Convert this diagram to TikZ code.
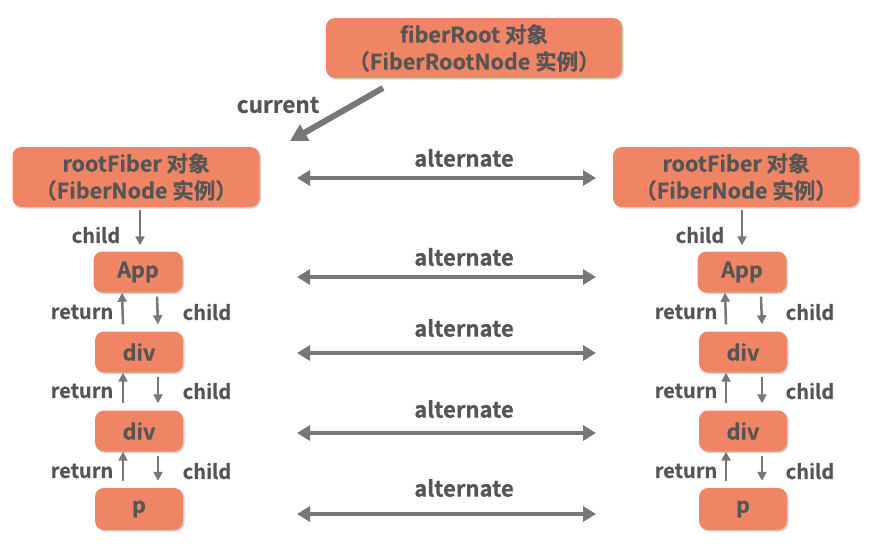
\documentclass[tikz,border=0pt]{standalone}
\usepackage{fontspec}
\setmainfont{Noto Sans CJK SC}[BoldFont={* Bold}, BoldFeatures={FakeBold=0.6}]
\usetikzlibrary{arrows.meta,shadows}
\definecolor{nodefill}{HTML}{F08565}
\definecolor{txt}{HTML}{555555}
\definecolor{arr}{HTML}{777777}
\tikzset{
  box/.style={fill=nodefill, rounded corners=9pt, draw=none, align=center,
    text=txt, font=\bfseries\fontsize{21.5}{27}\selectfont,
    drop shadow={shadow xshift=1.5pt, shadow yshift=-1.5pt, opacity=0.35, fill=gray}},
  lbl/.style={text=txt, font=\bfseries\fontsize{20}{24}\selectfont, inner sep=0pt},
  altlbl/.style={lbl, font=\bfseries\fontsize{22}{26}\selectfont},
  curlbl/.style={lbl, font=\bfseries\fontsize{22.5}{26}\selectfont},
  thin/.style={draw=arr, line width=2.5pt, -{Triangle[length=9pt,width=9pt]}},
  dbl/.style={draw=arr, line width=4.5pt, {Triangle[length=13pt,width=15pt]}-{Triangle[length=13pt,width=15pt]}},
  thick/.style={draw=arr, line width=6pt, -{Triangle[length=17pt,width=18pt]}},
}
\begin{document}
\begin{tikzpicture}[x=1pt,y=-1pt]
\useasboundingbox (0,0) rectangle (875,549);
% top node
\node[box, minimum width=296pt, minimum height=60pt] (fr) at (474,48) {fiberRoot 对象\\（FiberRootNode 实例）};
\node[box, minimum width=247pt, minimum height=60pt] (lr) at (136,177) {rootFiber 对象\\（FiberNode 实例）};
\node[box, minimum width=246pt, minimum height=60pt] (rr) at (736,177) {rootFiber 对象\\（FiberNode 实例）};
% left column
\node[box, minimum width=89pt, minimum height=41pt] (la) at (138,272) {App};
\node[box, minimum width=88pt, minimum height=41pt] (ld1) at (139,352) {div};
\node[box, minimum width=88pt, minimum height=41pt] (ld2) at (139,431) {div};
\node[box, minimum width=88pt, minimum height=42pt] (lp) at (139,509) {p};
% right column
\node[box, minimum width=89pt, minimum height=41pt] (ra) at (742,272) {App};
\node[box, minimum width=88pt, minimum height=41pt] (rd1) at (743,352) {div};
\node[box, minimum width=88pt, minimum height=41pt] (rd2) at (743,431) {div};
\node[box, minimum width=88pt, minimum height=42pt] (rp) at (743,509) {p};
% current arrow
\coordinate (cs) at (383,88);
\coordinate (ce) at (290,141);
\draw[thick] (cs) -- (ce);
\node[curlbl] (curl) at (278,105) {current};
% alternate arrows
\foreach \y/\ly [count=\i] in {178/158, 277/257, 353/328, 433/409, 514/488} {
  \coordinate (al\i) at (297,\y);
  \coordinate (ar\i) at (596,\y);
  \draw[dbl] (al\i) -- (ar\i);
  \node[altlbl] (alt\i) at (464,\ly) {alternate};
}
% child from rootFiber
\draw[thin] ([yshift=-3pt]lr.south -| 140,0) -- ([yshift=6pt]la.north -| 140,0);
\node[lbl] (lc0) at (96,235) {child};
\draw[thin] ([yshift=-3pt]rr.south -| 742,0) -- ([yshift=6pt]ra.north -| 742,0);
\node[lbl] (rc0) at (700,235) {child};
% column return/child
\foreach \a/\b/\y [count=\i] in {la/ld1/312, ld1/ld2/391, ld2/lp/471} {
  \draw[thin] ([xshift=-16pt,yshift=7pt]\b.north) -- ([xshift=-16pt]\a.south);
  \draw[thin] ([xshift=19pt,yshift=-4pt]\a.south) -- ([xshift=19pt,yshift=7pt]\b.north);
  \node[lbl] (lret\i) at (82,\y) {return};
  \node[lbl] (lch\i) at (207,\y) {child};
}
\foreach \a/\b/\y [count=\i] in {ra/rd1/312, rd1/rd2/391, rd2/rp/471} {
  \draw[thin] ([xshift=-17pt,yshift=7pt]\b.north) -- ([xshift=-17pt]\a.south);
  \draw[thin] ([xshift=19pt,yshift=-4pt]\a.south) -- ([xshift=19pt,yshift=7pt]\b.north);
  \node[lbl] (rret\i) at (686,\y) {return};
  \node[lbl] (rch\i) at (810,\y) {child};
}
\end{tikzpicture}
\end{document}
